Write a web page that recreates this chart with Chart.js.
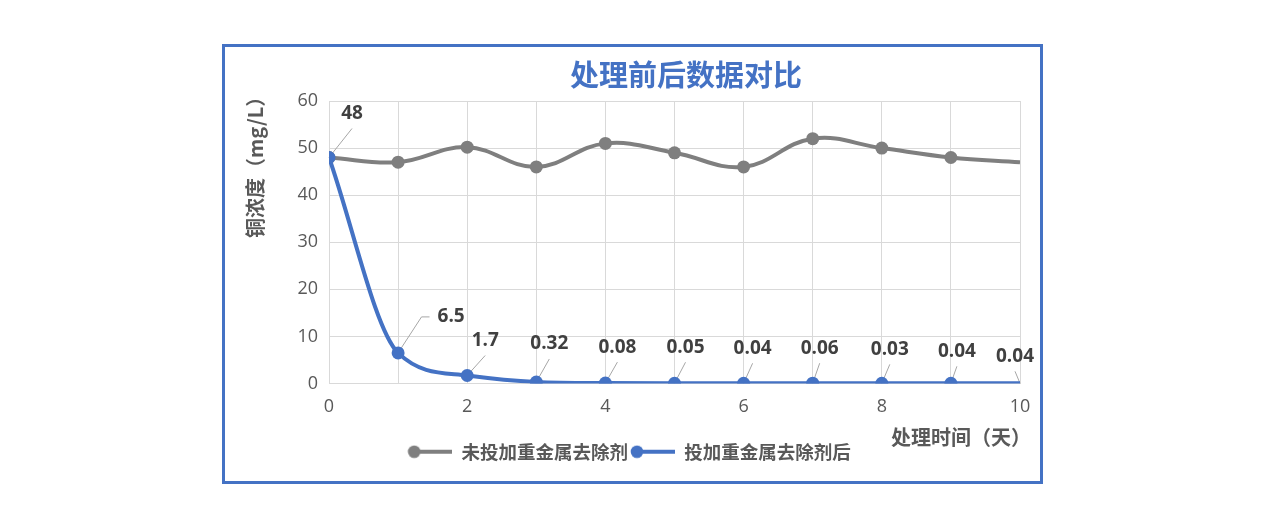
<!DOCTYPE html>
<html><head><meta charset="utf-8">
<script src="https://cdn.jsdelivr.net/npm/chart.js@4/dist/chart.umd.min.js"></script>
<style>
html,body{margin:0;padding:0;background:#fff;}
#frame{position:absolute;left:222px;top:44px;width:815px;height:434px;border:3px solid #4472C4;background:#fff;}
#frame canvas{display:block;}
</style></head><body>
<div id="frame"><canvas id="c" width="815" height="434"></canvas></div>
<script>
// ---- data ----
const days = [0,1,2,3,4,5,6,7,8,9,10];
const untreated = [48,47,50.2,46,51,49,46,52,50,48,47];
const treated = [48,6.5,1.7,0.32,0.08,0.05,0.04,0.06,0.03,0.04,0.04];
const treatedLabels = ['48','6.5','1.7','0.32','0.08','0.05','0.04','0.06','0.03','0.04','0.04'];
const seriesNames = ['未投加重金属去除剂','投加重金属去除剂后'];
const chartTitle = '处理前后数据对比';
const yTitle = '铜浓度（mg/L）';
const xTitle = '处理时间（天）';
const xTickLabels = [0,2,4,6,8,10];

// ---- styles ----
const GRAY = '#7F7F7F', BLUE = '#4472C4', TXT = '#595959', GRID = '#D9D9D9';
const LATIN = '"Open Sans", "Noto Sans CJK SC", sans-serif';
const CJK = '"Noto Sans CJK SC", "Open Sans", sans-serif';
const labelOffsets = [[23,-44],[53,-36],[18,-35],[13,-38],[12,-36],[11,-36],[9,-35],[7,-35],[8,-34],[6,-32],[-5,-27]];
const lastRadius = (n, r) => Array.from({length:n}, (_, i) => i === n - 1 ? 0 : r);

function legendIcon(color){
  const c = document.createElement('canvas');
  c.width = 45; c.height = 14;
  const g = c.getContext('2d');
  g.strokeStyle = color; g.lineWidth = 4;
  g.beginPath(); g.moveTo(4,7); g.lineTo(45,7); g.stroke();
  g.fillStyle = color; g.beginPath(); g.arc(7,7,6.3,0,Math.PI*2); g.fill();
  return c;
}
const icons = [legendIcon(GRAY), legendIcon(BLUE)];

const overlay = {
  id: 'overlay',
  beforeDatasetsDraw(chart){
    const meta = chart.getDatasetMeta(1);
    const ctx = chart.ctx;
    ctx.save();
    ctx.strokeStyle = '#A6A6A6'; ctx.lineWidth = 1;
    ctx.font = 'bold 19px ' + LATIN;
    meta.data.forEach((p, i) => {
      const [dx, dy] = labelOffsets[i];
      const lx = p.x + dx, ly = p.y + dy;
      ctx.beginPath();
      ctx.moveTo(p.x, p.y);
      if (dx > 30) {
        const w = ctx.measureText(treatedLabels[i]).width;
        ctx.lineTo(lx - w/2 - 16, ly);
        ctx.lineTo(lx - w/2 - 8, ly);
      } else {
        ctx.lineTo(lx, ly + 15);
      }
      ctx.stroke();
    });
    ctx.restore();
  },
  afterDatasetsDraw(chart){
    const meta = chart.getDatasetMeta(1);
    const ctx = chart.ctx;
    ctx.save();
    ctx.fillStyle = '#404040';
    ctx.font = 'bold 19px ' + LATIN;
    ctx.textAlign = 'center'; ctx.textBaseline = 'middle';
    meta.data.forEach((p, i) => {
      const [dx, dy] = labelOffsets[i];
      ctx.fillText(treatedLabels[i], p.x + dx, p.y + dy);
    });
    ctx.restore();
  },
  afterDraw(chart){
    const ctx = chart.ctx, a = chart.chartArea;
    ctx.save();
    // chart title
    ctx.fillStyle = BLUE;
    ctx.font = 'bold 29px ' + CJK;
    ctx.textAlign = 'center'; ctx.textBaseline = 'middle';
    ctx.fillText(chartTitle, (a.left + a.right)/2 + 11.5, a.top - 26);
    // y title
    ctx.fillStyle = TXT;
    ctx.font = 'bold 20px ' + CJK;
    ctx.textAlign = 'left';
    ctx.translate(a.left - 74, a.top + 137);
    ctx.rotate(-Math.PI/2);
    ctx.fillText(yTitle, 0, 0);
    ctx.restore();
    // x title
    ctx.save();
    ctx.fillStyle = TXT;
    ctx.font = 'bold 20px ' + CJK;
    ctx.textAlign = 'left'; ctx.textBaseline = 'middle';
    ctx.fillText(xTitle, a.right - 129, a.bottom + 54);
    ctx.restore();
  }
};

new Chart(document.getElementById('c'), {
  type: 'line',
  data: {
    datasets: [
      {
        label: seriesNames[0],
        data: days.map((d, i) => ({x: d, y: untreated[i]})),
        borderColor: GRAY, backgroundColor: GRAY,
        borderWidth: 4, tension: 0.4,
        pointRadius: lastRadius(days.length, 6.5), pointBorderWidth: 0,
        pointBackgroundColor: GRAY, pointHoverRadius: 6.5,
        clip: 0, order: 1
      },
      {
        label: seriesNames[1],
        data: days.map((d, i) => ({x: d, y: treated[i]})),
        borderColor: BLUE, backgroundColor: BLUE,
        borderWidth: 4, cubicInterpolationMode: 'monotone',
        pointRadius: lastRadius(days.length, 6.5), pointBorderWidth: 0,
        pointBackgroundColor: BLUE, pointHoverRadius: 6.5,
        clip: 0, order: 0
      }
    ]
  },
  options: {
    responsive: false,
    animation: false,
    events: [],
    layout: { padding: { left: 13, right: 20, top: 54, bottom: 10 } },
    scales: {
      x: {
        type: 'linear', min: 0, max: 10,
        afterFit: s => { s.height = 57; },
        grid: { color: GRID, lineWidth: 1, drawTicks: true, tickLength: 13, tickColor: 'rgba(0,0,0,0)' },
        border: { color: GRID },
        ticks: {
          stepSize: 1, autoSkip: false, maxRotation: 0, padding: 0,
          color: TXT, font: { family: LATIN, size: 18 },
          callback: v => xTickLabels.includes(v) ? String(v) : ''
        }
      },
      y: {
        min: 0, max: 60,
        afterFit: s => { s.width = 91; },
        grid: { color: GRID, lineWidth: 1, drawTicks: false },
        border: { color: GRID },
        ticks: { stepSize: 10, padding: 11, color: TXT, font: { family: LATIN, size: 18 } }
      }
    },
    plugins: {
      title: { display: false },
      tooltip: { enabled: false },
      legend: {
        position: 'bottom',
        labels: {
          usePointStyle: true, pointStyleWidth: 45, padding: 2,
          color: TXT, font: { family: CJK, size: 18.5, weight: 'bold' },
          generateLabels(chart) {
            const items = Chart.defaults.plugins.legend.labels.generateLabels(chart);
            items.forEach(it => { it.pointStyle = icons[it.datasetIndex]; });
            return items;
          },
          sort: (a, b) => a.datasetIndex - b.datasetIndex
        }
      }
    }
  },
  plugins: [overlay]
});
</script>
</body></html>
